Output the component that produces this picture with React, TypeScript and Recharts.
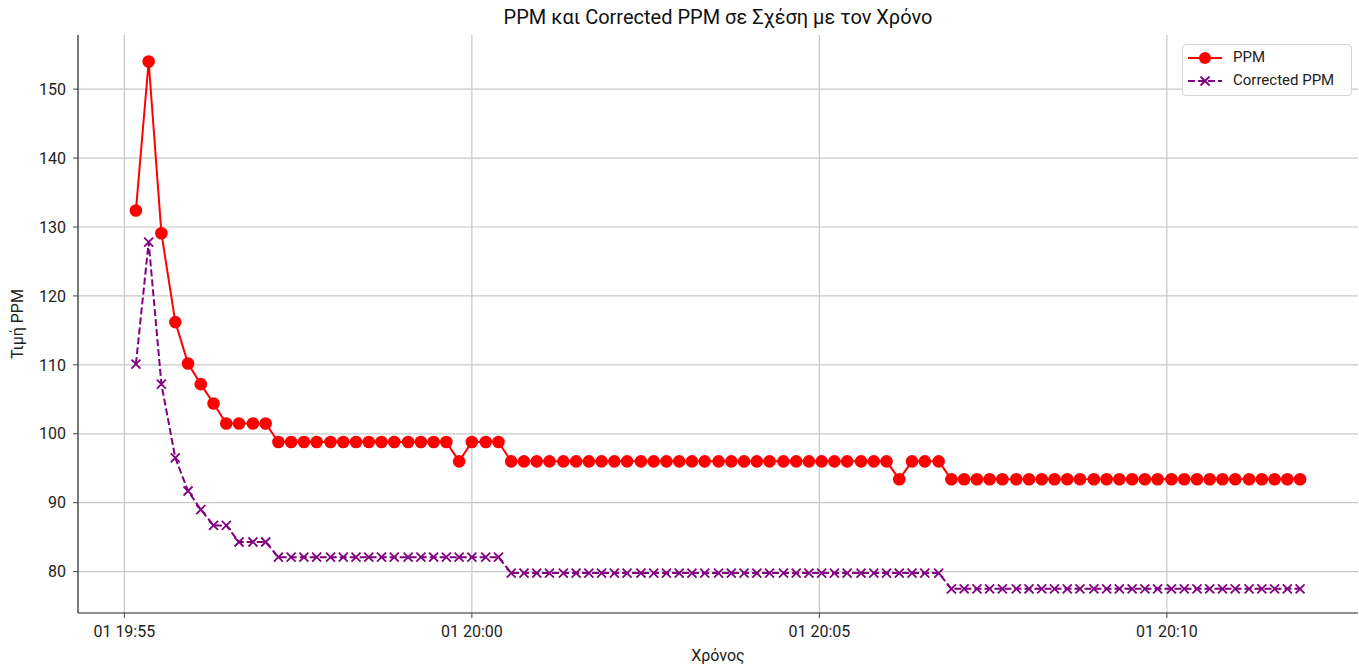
import React from "react";
import { LineChart, Line, XAxis, YAxis, CartesianGrid } from "recharts";

// sample times (same day, "01")
const times = [
  "19:55:10", "19:55:21", "19:55:32", "19:55:44", "19:55:55", "19:56:06", "19:56:17", "19:56:28", "19:56:39", "19:56:51",
  "19:57:02", "19:57:13", "19:57:24", "19:57:35", "19:57:46", "19:57:58", "19:58:09", "19:58:20", "19:58:31", "19:58:42",
  "19:58:53", "19:59:05", "19:59:16", "19:59:27", "19:59:38", "19:59:49", "20:00:00", "20:00:12", "20:00:23", "20:00:34",
  "20:00:45", "20:00:56", "20:01:07", "20:01:19", "20:01:30", "20:01:41", "20:01:52", "20:02:03", "20:02:14", "20:02:26",
  "20:02:37", "20:02:48", "20:02:59", "20:03:10", "20:03:21", "20:03:33", "20:03:44", "20:03:55", "20:04:06", "20:04:17",
  "20:04:29", "20:04:40", "20:04:51", "20:05:02", "20:05:13", "20:05:24", "20:05:36", "20:05:47", "20:05:58", "20:06:09",
  "20:06:20", "20:06:31", "20:06:43", "20:06:54", "20:07:05", "20:07:16", "20:07:27", "20:07:38", "20:07:50", "20:08:01",
  "20:08:12", "20:08:23", "20:08:34", "20:08:45", "20:08:57", "20:09:08", "20:09:19", "20:09:30", "20:09:41", "20:09:52",
  "20:10:04", "20:10:15", "20:10:26", "20:10:37", "20:10:48", "20:10:59", "20:11:11", "20:11:22", "20:11:33", "20:11:44",
  "20:11:55",
];

const ppm = [
  132.4, 154.0, 129.1, 116.2, 110.2, 107.2, 104.4, 101.5, 101.5, 101.5,
  101.5, 98.8, 98.8, 98.8, 98.8, 98.8, 98.8, 98.8, 98.8, 98.8,
  98.8, 98.8, 98.8, 98.8, 98.8, 96.0, 98.8, 98.8, 98.8, 96.0,
  96.0, 96.0, 96.0, 96.0, 96.0, 96.0, 96.0, 96.0, 96.0, 96.0,
  96.0, 96.0, 96.0, 96.0, 96.0, 96.0, 96.0, 96.0, 96.0, 96.0,
  96.0, 96.0, 96.0, 96.0, 96.0, 96.0, 96.0, 96.0, 96.0, 93.4,
  96.0, 96.0, 96.0, 93.4, 93.4, 93.4, 93.4, 93.4, 93.4, 93.4,
  93.4, 93.4, 93.4, 93.4, 93.4, 93.4, 93.4, 93.4, 93.4, 93.4,
  93.4, 93.4, 93.4, 93.4, 93.4, 93.4, 93.4, 93.4, 93.4, 93.4,
  93.4,
];

const correctedPpm = [
  110.1, 127.8, 107.2, 96.5, 91.7, 89.0, 86.7, 86.7, 84.3, 84.3,
  84.3, 82.1, 82.1, 82.1, 82.1, 82.1, 82.1, 82.1, 82.1, 82.1,
  82.1, 82.1, 82.1, 82.1, 82.1, 82.1, 82.1, 82.1, 82.1, 79.8,
  79.8, 79.8, 79.8, 79.8, 79.8, 79.8, 79.8, 79.8, 79.8, 79.8,
  79.8, 79.8, 79.8, 79.8, 79.8, 79.8, 79.8, 79.8, 79.8, 79.8,
  79.8, 79.8, 79.8, 79.8, 79.8, 79.8, 79.8, 79.8, 79.8, 79.8,
  79.8, 79.8, 79.8, 77.5, 77.5, 77.5, 77.5, 77.5, 77.5, 77.5,
  77.5, 77.5, 77.5, 77.5, 77.5, 77.5, 77.5, 77.5, 77.5, 77.5,
  77.5, 77.5, 77.5, 77.5, 77.5, 77.5, 77.5, 77.5, 77.5, 77.5,
  77.5,
];

const xTicks = ["19:55:00", "20:00:00", "20:05:00", "20:10:00"];
const yTicks = [80, 90, 100, 110, 120, 130, 140, 150];

const toSec = (s: string) => {
  const [h, m, sec] = s.split(":").map(Number);
  return h * 3600 + m * 60 + sec;
};

const data = times.map((t, i) => ({ t: toSec(t), ppm: ppm[i], corrected: correctedPpm[i] }));

const FONT = "Roboto, 'Open Sans', sans-serif";
const RED = "#ff0000";
const PURPLE = "#800080";
const DASH = "7 3";

const fmtTime = (v: number) => {
  const h = Math.floor(v / 3600);
  const m = Math.floor((v % 3600) / 60);
  return `01 ${h}:${String(m).padStart(2, "0")}`;
};

function CrossDot(props: any) {
  const { cx, cy } = props;
  if (cx == null || cy == null) return null;
  const s = 4.5;
  return (
    <path
      d={`M${cx - s},${cy - s}L${cx + s},${cy + s}M${cx - s},${cy + s}L${cx + s},${cy - s}`}
      stroke={PURPLE}
      strokeWidth={1.8}
      fill="none"
    />
  );
}

export default function App() {
  return (
    <div style={{ position: "absolute", left: 0, top: 0, width: 1359, height: 669, background: "#fff", fontFamily: FONT }}>
      <LineChart width={1359} height={669} data={data} margin={{ top: 35, right: 1, bottom: 0, left: 0 }}>
        <CartesianGrid
          stroke="#c8c8c8"
          strokeWidth={1.2}
          horizontalValues={yTicks}
          verticalValues={xTicks.map(toSec)}
        />
        <XAxis
          dataKey="t"
          type="number"
          domain={[71660, 72765]}
          ticks={xTicks.map(toSec)}
          tickFormatter={fmtTime}
          height={56}
          axisLine={{ stroke: "#222", strokeWidth: 1.2 }}
          tickLine={{ stroke: "#444" }}
          tickSize={5}
          tickMargin={8}
          tick={{ fontSize: 16, fill: "#222", fontFamily: FONT }}
        />
        <YAxis
          type="number"
          domain={[74.0, 157.85]}
          ticks={yTicks}
          width={78}
          axisLine={{ stroke: "#222", strokeWidth: 1.2 }}
          tickLine={{ stroke: "#444" }}
          tickSize={5}
          tickMargin={7}
          allowDataOverflow
          tick={{ fontSize: 16, fill: "#222", fontFamily: FONT }}
        />
        <Line
          dataKey="ppm"
          stroke={RED}
          strokeWidth={2}
          dot={{ r: 6.3, fill: RED, stroke: RED, strokeWidth: 0 }}
          isAnimationActive={false}
        />
        <Line
          dataKey="corrected"
          stroke={PURPLE}
          strokeWidth={2}
          strokeDasharray={DASH}
          dot={<CrossDot />}
          isAnimationActive={false}
        />
      </LineChart>

      <div style={{ position: "absolute", left: 0, width: 1436, top: 5, textAlign: "center", fontSize: 20, color: "#111" }}>
        PPM και Corrected PPM σε Σχέση με τον Χρόνο
      </div>
      <div style={{ position: "absolute", left: 0, width: 1436, top: 646, textAlign: "center", fontSize: 16, color: "#222" }}>
        Χρόνος
      </div>
      <div
        style={{
          position: "absolute",
          left: 17,
          top: 324,
          transform: "translate(-50%, -50%) rotate(-90deg)",
          fontSize: 16,
          color: "#222",
          whiteSpace: "nowrap",
        }}
      >
        Τιμή PPM
      </div>

      <div
        style={{
          position: "absolute",
          left: 1182,
          top: 44,
          width: 168,
          height: 50,
          border: "1px solid #d5d5d5",
          borderRadius: 4,
          background: "rgba(255,255,255,0.85)",
          fontSize: 15,
          color: "#222",
        }}
      >
        <svg width={40} height={50} style={{ position: "absolute", left: 4, top: 0 }}>
          <line x1={1} y1={13} x2={35} y2={13} stroke={RED} strokeWidth={2} />
          <circle cx={18} cy={13} r={6} fill={RED} />
          <line x1={1} y1={36} x2={35} y2={36} stroke={PURPLE} strokeWidth={2} strokeDasharray={DASH} />
          <path d="M13.5,31.5L22.5,40.5M13.5,40.5L22.5,31.5" stroke={PURPLE} strokeWidth={1.8} />
        </svg>
        <div style={{ position: "absolute", left: 50, top: 3 }}>PPM</div>
        <div style={{ position: "absolute", left: 50, top: 26 }}>Corrected PPM</div>
      </div>
    </div>
  );
}
